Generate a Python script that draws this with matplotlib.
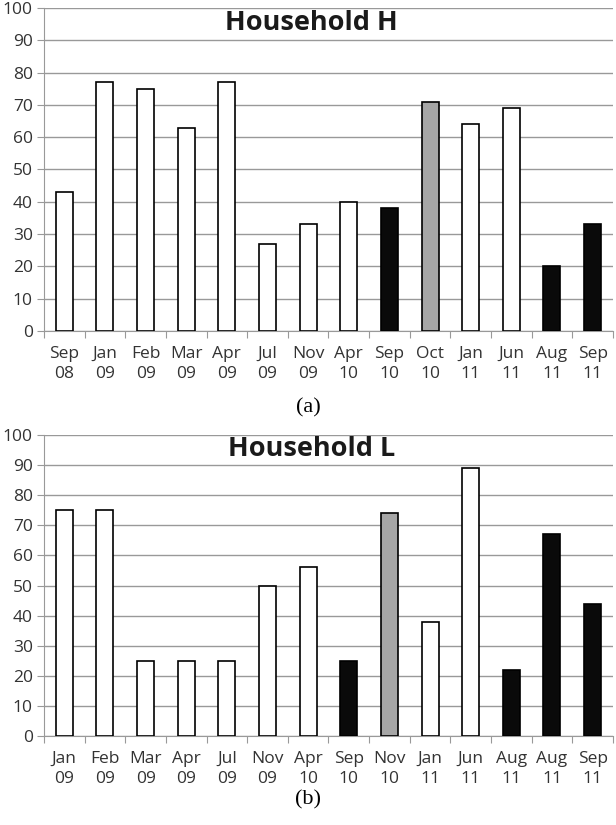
import matplotlib.pyplot as plt
import numpy as np

labels_h = ["Sep\n08", "Jan\n09", "Feb\n09", "Mar\n09", "Apr\n09", "Jul\n09", "Nov\n09",
            "Apr\n10", "Sep\n10", "Oct\n10", "Jan\n11", "Jun\n11", "Aug\n11", "Sep\n11"]
values_h = [43, 77, 75, 63, 77, 27, 33, 40, 38, 71, 64, 69, 20, 33]
kinds_h = ["w", "w", "w", "w", "w", "w", "w", "w", "b", "g", "w", "w", "b", "b"]

labels_l = ["Jan\n09", "Feb\n09", "Mar\n09", "Apr\n09", "Jul\n09", "Nov\n09", "Apr\n10",
            "Sep\n10", "Nov\n10", "Jan\n11", "Jun\n11", "Aug\n11", "Aug\n11", "Sep\n11"]
values_l = [75, 75, 25, 25, 25, 50, 56, 25, 74, 38, 89, 22, 67, 44]
kinds_l = ["w", "w", "w", "w", "w", "w", "w", "b", "g", "w", "w", "b", "b", "b"]

fill = {"w": "white", "b": "#0a0a0a", "g": "#a6a6a6"}


def draw(ax, labels, values, kinds, title):
    x = np.arange(len(values))
    ax.bar(x, values, width=0.42, color=[fill[k] for k in kinds],
           edgecolor="black", linewidth=1.2, zorder=3)
    ax.set_xlim(-0.5, len(values) - 0.5)
    ax.set_ylim(0, 100)
    ax.set_yticks(range(0, 101, 10))
    ax.yaxis.grid(True, color="#999999", linewidth=1.0, zorder=0)
    ax.set_xticks(np.arange(-0.5, len(values), 1.0), minor=False)
    ax.set_xticklabels([])
    ax.set_xticks(x, minor=True)
    ax.set_xticklabels(labels, minor=True, fontsize=12.5, family="Open Sans",
                       color="#333333", linespacing=1.3)
    ax.tick_params(axis="x", which="major", length=5, direction="out", color="#999999")
    ax.tick_params(axis="x", which="minor", length=0, pad=11)
    ax.tick_params(axis="y", length=5, color="#999999", labelsize=12.5, labelcolor="#333333",
                   pad=3)
    for lab in ax.get_yticklabels():
        lab.set_family("Open Sans")
    for s in ["top", "right"]:
        ax.spines[s].set_visible(False)
    for s in ["left", "bottom"]:
        ax.spines[s].set_color("#999999")
    ax.text(0.47, 0.955, title, transform=ax.transAxes, ha="center", va="center",
            fontsize=19.5, fontweight="bold", family="Open Sans", color="#1a1a1a", zorder=5)


fig = plt.figure(figsize=(6.16, 8.25), dpi=100)
ax1 = fig.add_axes([0.0714, 0.5988, 0.9236, 0.3915])
ax2 = fig.add_axes([0.0714, 0.1079, 0.9236, 0.3648])
draw(ax1, labels_h, values_h, kinds_h, "Household H")
draw(ax2, labels_l, values_l, kinds_l, "Household L")

fig.text(0.5, 1 - 408 / 825, "(a)", ha="center", va="center", fontsize=16,
         family="Liberation Serif")
fig.text(0.5, 1 - 800 / 825, "(b)", ha="center", va="center", fontsize=16,
         family="Liberation Serif")

fig.savefig("out.png", dpi=100)
